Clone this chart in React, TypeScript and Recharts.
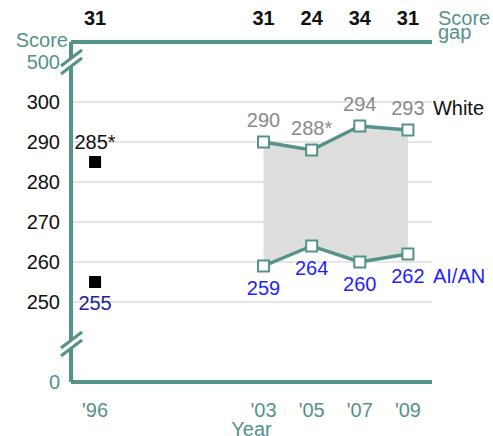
import { ComposedChart, Line, Area, XAxis, YAxis, CartesianGrid, LabelList, Label } from "recharts";

const TEAL = "#55928a";
const FONT = '"Liberation Sans", Arial, sans-serif';
const FS = 20;

// data
const years = [2003, 2005, 2007, 2009];
const whiteScores = [290, 288, 294, 293];
const whiteNotes = ["290", "288*", "294", "293"];
const aianScores = [259, 264, 260, 262];
const aianNotes = ["259", "264", "260", "262"];
const firstYear = 1996;
const white1996 = 285;
const aian1996 = 255;
const white1996Note = "285*";
const aian1996Note = "255";
const gapYears = [1996, 2003, 2005, 2007, 2009];
const scoreGaps = [31, 31, 24, 34, 31];
const gridScores = [250, 260, 270, 280, 290, 300];
const seriesNames = ["White", "AI/AN"];

// broken axis: 0 and 500 are drawn at stand-in values
const axisZero = 230;
const lowerBreak = 239.5;
const upperBreak = 310;
const yTicks = [axisZero, lowerBreak, ...gridScores, upperBreak];

const data = [
  { year: firstYear, w96: white1996, a96: aian1996, w96Note: white1996Note, a96Note: aian1996Note, gap: null as any },
  ...years.map((y, i) => ({
    year: y,
    white: whiteScores[i],
    aian: aianScores[i],
    gap: [aianScores[i], whiteScores[i]],
    wNote: whiteNotes[i],
    aNote: aianNotes[i],
  })),
];

const txt = { fontFamily: FONT, fontSize: FS };

const HollowSquare = (p: any) =>
  p.cx == null || p.cy == null || p.value == null ? null : (
    <rect key={p.key} x={p.cx - 5.5} y={p.cy - 5.5} width={11} height={11} fill="#fff" stroke={TEAL} strokeWidth={2} />
  );

const SolidSquare = (p: any) =>
  p.cx == null || p.cy == null || p.value == null ? null : (
    <rect key={p.key} x={p.cx - 6} y={p.cy - 6} width={12} height={12} fill="#000" />
  );

const BreakMark = ({ x, y }: { x: number; y: number }) => (
  <g>
    <polygon points={`${x - 10},${y + 12} ${x + 11},${y - 4} ${x + 11},${y - 12} ${x - 10},${y + 4}`} fill="#fff" />
    <line x1={x - 10} y1={y + 12} x2={x + 11} y2={y - 4} stroke={TEAL} strokeWidth={3} />
    <line x1={x - 10} y1={y + 4} x2={x + 11} y2={y - 12} stroke={TEAL} strokeWidth={3} />
  </g>
);

const ScoreTick = (p: any) => {
  const v = p.payload.value;
  const ax = p.x + 11;
  if (v === lowerBreak) return <BreakMark x={ax} y={p.y} />;
  const end = v === axisZero || v === upperBreak;
  return (
    <g>
      {v === upperBreak && <BreakMark x={ax} y={p.y} />}
      <text x={p.x} y={p.y} dy={7} textAnchor="end" fill={end ? TEAL : "#111"} {...txt}>
        {v === axisZero ? "0" : v === upperBreak ? "500" : v}
      </text>
    </g>
  );
};

const YearTick = (p: any) => (
  <text x={p.x} y={p.y + 35} textAnchor="middle" fill={TEAL} {...txt}>
    {"'" + String(p.payload.value).slice(2)}
  </text>
);

const GapTick = (p: any) => (
  <text x={p.x} y={p.y - 17} textAnchor="middle" fill="#111" fontWeight="bold" {...txt}>
    {scoreGaps[gapYears.indexOf(p.payload.value)]}
  </text>
);

const pos = (p: any) => ({ x: p.x ?? p.viewBox?.x, y: p.y ?? p.viewBox?.y });

const whiteLabel = (p: any) => {
  if (p.value == null) return null;
  const { x, y } = pos(p);
  return (
    <g>
      <text x={x} y={y - 15} textAnchor="middle" fill="#8a8a8a" {...txt}>{p.value}</text>
      {p.index === data.length - 1 && (
        <text x={x + 25} y={y - 15} fill="#111" {...txt}>{seriesNames[0]}</text>
      )}
    </g>
  );
};

const aianLabel = (p: any) => {
  if (p.value == null) return null;
  const { x, y } = pos(p);
  return (
    <g>
      <text x={x} y={y + 29} textAnchor="middle" fill="#1f1fff" {...txt}>{p.value}</text>
      {p.index === data.length - 1 && (
        <text x={x + 25} y={y + 29} fill="#1f1fff" {...txt}>{seriesNames[1]}</text>
      )}
    </g>
  );
};

const white96Label = (p: any) => {
  if (p.value == null) return null;
  const { x, y } = pos(p);
  return <text x={x} y={y - 13} textAnchor="middle" fill="#111" {...txt}>{p.value}</text>;
};

const aian96Label = (p: any) => {
  if (p.value == null) return null;
  const { x, y } = pos(p);
  return <text x={x} y={y + 28} textAnchor="middle" fill="#22229a" {...txt}>{p.value}</text>;
};

export default function App() {
  return (
    <div style={{ width: 493, height: 436, overflow: "hidden" }}>
      <style>{"body{margin:0;overflow:hidden}"}</style>
      <ComposedChart width={493} height={436} data={data} margin={{ top: 8, right: 61, bottom: 0, left: 21 }}>
        <CartesianGrid vertical={false} horizontalValues={gridScores} stroke="#dddddd" strokeWidth={1.5} />
        <XAxis
          dataKey="year"
          type="number"
          domain={[1995, 2010]}
          ticks={gapYears}
          interval={0}
          height={54}
          tickSize={0}
          tickMargin={0}
          tick={<YearTick />}
          axisLine={{ stroke: TEAL, strokeWidth: 4 }}
          allowDataOverflow
        >
          <Label
            content={(p: any) => {
              const vb = p.viewBox;
              return (
                <text x={vb.x + vb.width / 2} y={vb.y + 54} textAnchor="middle" fill={TEAL} {...txt}>Year</text>
              );
            }}
          />
        </XAxis>
        <XAxis
          xAxisId="top"
          orientation="top"
          dataKey="year"
          type="number"
          domain={[1995, 2010]}
          ticks={gapYears}
          interval={0}
          height={34}
          tickSize={0}
          tickMargin={0}
          tick={<GapTick />}
          axisLine={{ stroke: TEAL, strokeWidth: 4 }}
          allowDataOverflow
        >
          <Label
            content={(p: any) => {
              const vb = p.viewBox;
              const x = vb.x + vb.width + 6;
              return (
                <g>
                  <text x={x} y={vb.y + 17} fill={TEAL} {...txt}>Score</text>
                  <text x={x} y={vb.y + 31} fill={TEAL} {...txt}>gap</text>
                </g>
              );
            }}
          />
        </XAxis>
        <YAxis
          type="number"
          domain={[230, 315]}
          ticks={yTicks}
          interval={0}
          width={50}
          tickSize={0}
          tickMargin={11}
          tick={<ScoreTick />}
          axisLine={{ stroke: TEAL, strokeWidth: 4 }}
          allowDataOverflow
        >
          <Label
            content={(p: any) => {
              const vb = p.viewBox;
              return (
                <text x={vb.x + vb.width - 3} y={vb.y + 5} textAnchor="end" fill={TEAL} {...txt}>Score</text>
              );
            }}
          />
        </YAxis>
        <Area dataKey="gap" fill="#dedede" fillOpacity={1} stroke="none" isAnimationActive={false} />
        <Line dataKey="white" stroke={TEAL} strokeWidth={3.5} dot={<HollowSquare />} activeDot={false} isAnimationActive={false}>
          <LabelList dataKey="wNote" content={whiteLabel} />
        </Line>
        <Line dataKey="aian" stroke={TEAL} strokeWidth={3.5} dot={<HollowSquare />} activeDot={false} isAnimationActive={false}>
          <LabelList dataKey="aNote" content={aianLabel} />
        </Line>
        <Line dataKey="w96" stroke="none" dot={<SolidSquare />} activeDot={false} isAnimationActive={false}>
          <LabelList dataKey="w96Note" content={white96Label} />
        </Line>
        <Line dataKey="a96" stroke="none" dot={<SolidSquare />} activeDot={false} isAnimationActive={false}>
          <LabelList dataKey="a96Note" content={aian96Label} />
        </Line>
      </ComposedChart>
    </div>
  );
}
